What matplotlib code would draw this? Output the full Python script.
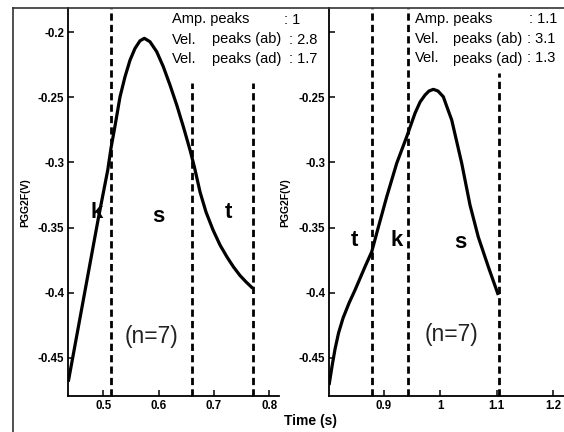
import matplotlib
matplotlib.use("Agg")
import matplotlib.pyplot as plt
from matplotlib.lines import Line2D

plt.rcParams['font.family'] = ['Liberation Sans', 'DejaVu Sans']
plt.rcParams['axes.unicode_minus'] = False

# ---------------- data ----------------
left_t = [0.4367, 0.4910, 0.5080, 0.5139, 0.5211, 0.5302, 0.5392, 0.5483, 0.5573, 0.5663,
          0.5741, 0.5843, 0.5965, 0.6084, 0.6205, 0.6327, 0.6446, 0.6567, 0.6645, 0.6748,
          0.6856, 0.6983, 0.7109, 0.7236, 0.7353, 0.7471, 0.7580, 0.7700]
left_v = [-0.4684, -0.3429, -0.3058, -0.2889, -0.2720, -0.2495, -0.2341, -0.2213, -0.2123, -0.2065,
          -0.2046, -0.2072, -0.2149, -0.2264, -0.2405, -0.2559, -0.2725, -0.2904, -0.3033, -0.3227,
          -0.3381, -0.3519, -0.3634, -0.3727, -0.3803, -0.3869, -0.3918, -0.3967]

right_t = [0.8026, 0.8079, 0.8132, 0.8194, 0.8274, 0.8380, 0.8486, 0.8663, 0.8782, 0.8871,
           0.9048, 0.9225, 0.9402, 0.9549, 0.9638, 0.9726, 0.9797, 0.9874, 0.9957, 1.0051,
           1.0116, 1.0200, 1.0377, 1.0524, 1.0671, 1.0848, 1.1025]
right_v = [-0.4710, -0.4564, -0.4433, -0.4310, -0.4195, -0.4080, -0.3980, -0.3801, -0.3686, -0.3542,
           -0.3263, -0.3006, -0.2802, -0.2622, -0.2536, -0.2482, -0.2451, -0.2438, -0.2451, -0.2495,
           -0.2574, -0.2674, -0.3006, -0.3327, -0.3573, -0.3801, -0.4018]

left_bounds = [0.5134, 0.661, 0.771]
right_bounds = [0.878, 0.942, 1.103]
left_bound_top = [None, -0.239, -0.239]
right_bound_top = [None, None, -0.2313]

left_segments = ['k', 's', 't']
right_segments = ['t', 'k', 's']

left_xticks = [0.5, 0.6, 0.7, 0.8]
left_xticklabels = ['0.5', '0.6', '0.7', '0.8']
right_xticks = [0.9, 1.0, 1.1, 1.2]
right_xticklabels = ['0.9', '1', '1.1', '1.2']
yticks = [-0.45, -0.4, -0.35, -0.3, -0.25, -0.2]
left_yticklabels = ['-0.45', '-0.4', '-0.35', '-0.3', '-0.25', '-0.2']
right_yticklabels = ['-0.45', '-0.4', '-0.35', '-0.3', '-0.25', '']

left_stats = [': 1', ': 2.8', ': 1.7']
right_stats = [': 1.1', ': 3.1', ': 1.3']
n_label = '(n=7)'
ylabel = 'PGG2F(V)'
xlabel = 'Time (s)'

# ---------------- figure ----------------
W, H = 564, 432
fig = plt.figure(figsize=(W / 100, H / 100), dpi=100)


def fx(x):
    return x / W


def fy(y):
    return 1 - y / H


def make_ax(x0, x1, y0, y1):
    return fig.add_axes([fx(x0), fy(y1), fx(x1) - fx(x0), fy(y0) - fy(y1)])


axL = make_ax(68.3, 279, 8, 395.7)
axR = make_ax(329.3, 564, 8, 395.7)

ylim = (-0.4792, -0.1813)


def style(ax, xlim, xt, xtl, ytl):
    ax.set_xlim(*xlim)
    ax.set_ylim(*ylim)
    ax.set_xticks(xt)
    ax.set_xticklabels(xtl)
    ax.set_yticks(yticks)
    ax.set_yticklabels(ytl)
    for s in ['top', 'right']:
        ax.spines[s].set_visible(False)
    for s in ['left', 'bottom']:
        ax.spines[s].set_linewidth(1.3)
    ax.tick_params(direction='in', length=4, width=1.1, labelsize=8.3, pad=3)
    for lab in ax.get_xticklabels() + ax.get_yticklabels():
        lab.set_fontweight('bold')
    ax.patch.set_alpha(0)


style(axL, (0.4367, 0.8175), left_xticks, left_xticklabels, left_yticklabels)
style(axR, (0.803, 1.219), right_xticks, right_xticklabels, right_yticklabels)

dash = (0, (2.6, 1.5))
for ax, bounds, tops in [(axL, left_bounds, left_bound_top), (axR, right_bounds, right_bound_top)]:
    for b, top in zip(bounds, tops):
        yt = ylim[1] if top is None else top
        ax.plot([b, b], [ylim[0], yt], color='black', lw=2.0, linestyle=dash,
                clip_on=False, zorder=2)

axL.plot(left_t, left_v, color='black', lw=2.3, solid_capstyle='butt',
         solid_joinstyle='round', zorder=3)
axR.plot(right_t, right_v, color='black', lw=2.3, solid_capstyle='butt',
         solid_joinstyle='round', zorder=3)

# segment letters
seg_kw = dict(fontsize=16, fontweight='bold', ha='center', va='center')
for (x, y), s in zip([(97, 213), (158, 216), (228, 213)], left_segments):
    fig.text(fx(x), fy(y), s, **seg_kw)
for (x, y), s in zip([(354, 241), (397, 241), (460, 243)], right_segments):
    fig.text(fx(x), fy(y), s, **seg_kw)

# (n=7)
fig.text(fx(152), fy(337), n_label, fontsize=16.5, ha='center', va='center', color='#222222')
fig.text(fx(452), fy(335), n_label, fontsize=16.5, ha='center', va='center', color='#222222')

# stats text
st_kw = dict(fontsize=10.5, va='baseline', ha='left')
rows = [23.5, 43.5, 63]
fig.text(fx(172), fy(rows[0]), 'Amp. peaks', **st_kw)
fig.text(fx(172), fy(rows[1]), 'Vel.', **st_kw)
fig.text(fx(212), fy(rows[1]), 'peaks (ab)', **st_kw)
fig.text(fx(172), fy(rows[2]), 'Vel.', **st_kw)
fig.text(fx(212), fy(rows[2]), 'peaks (ad)', **st_kw)
for y, x, s in zip(rows, [284, 289, 289], left_stats):
    fig.text(fx(x), fy(y), s, **st_kw)

rowsR = [23, 43, 62.5]
fig.text(fx(415), fy(rowsR[0]), 'Amp. peaks', **st_kw)
fig.text(fx(415), fy(rowsR[1]), 'Vel.', **st_kw)
fig.text(fx(453), fy(rowsR[1]), 'peaks (ab)', **st_kw)
fig.text(fx(415), fy(rowsR[2]), 'Vel.', **st_kw)
fig.text(fx(453), fy(rowsR[2]), 'peaks (ad)', **st_kw)
for y, x, s in zip(rowsR, [529, 527, 527], right_stats):
    fig.text(fx(x), fy(y), s, **st_kw)

# axis labels
fig.text(fx(25), fy(203), ylabel, rotation=90, fontsize=7.5, fontweight='bold',
         ha='center', va='center')
fig.text(fx(285), fy(203), ylabel, rotation=90, fontsize=7.5, fontweight='bold',
         ha='center', va='center')
fig.text(fx(310), fy(421), xlabel, fontsize=10, fontweight='bold', ha='center', va='center')

# outer frame (cropped)
fig.add_artist(Line2D([fx(13), 1.0], [fy(8), fy(8)], color='#333333', lw=1.2))
fig.add_artist(Line2D([fx(13), fx(13)], [fy(8), 0.0], color='#333333', lw=1.2))

fig.savefig('out.png', dpi=100)
